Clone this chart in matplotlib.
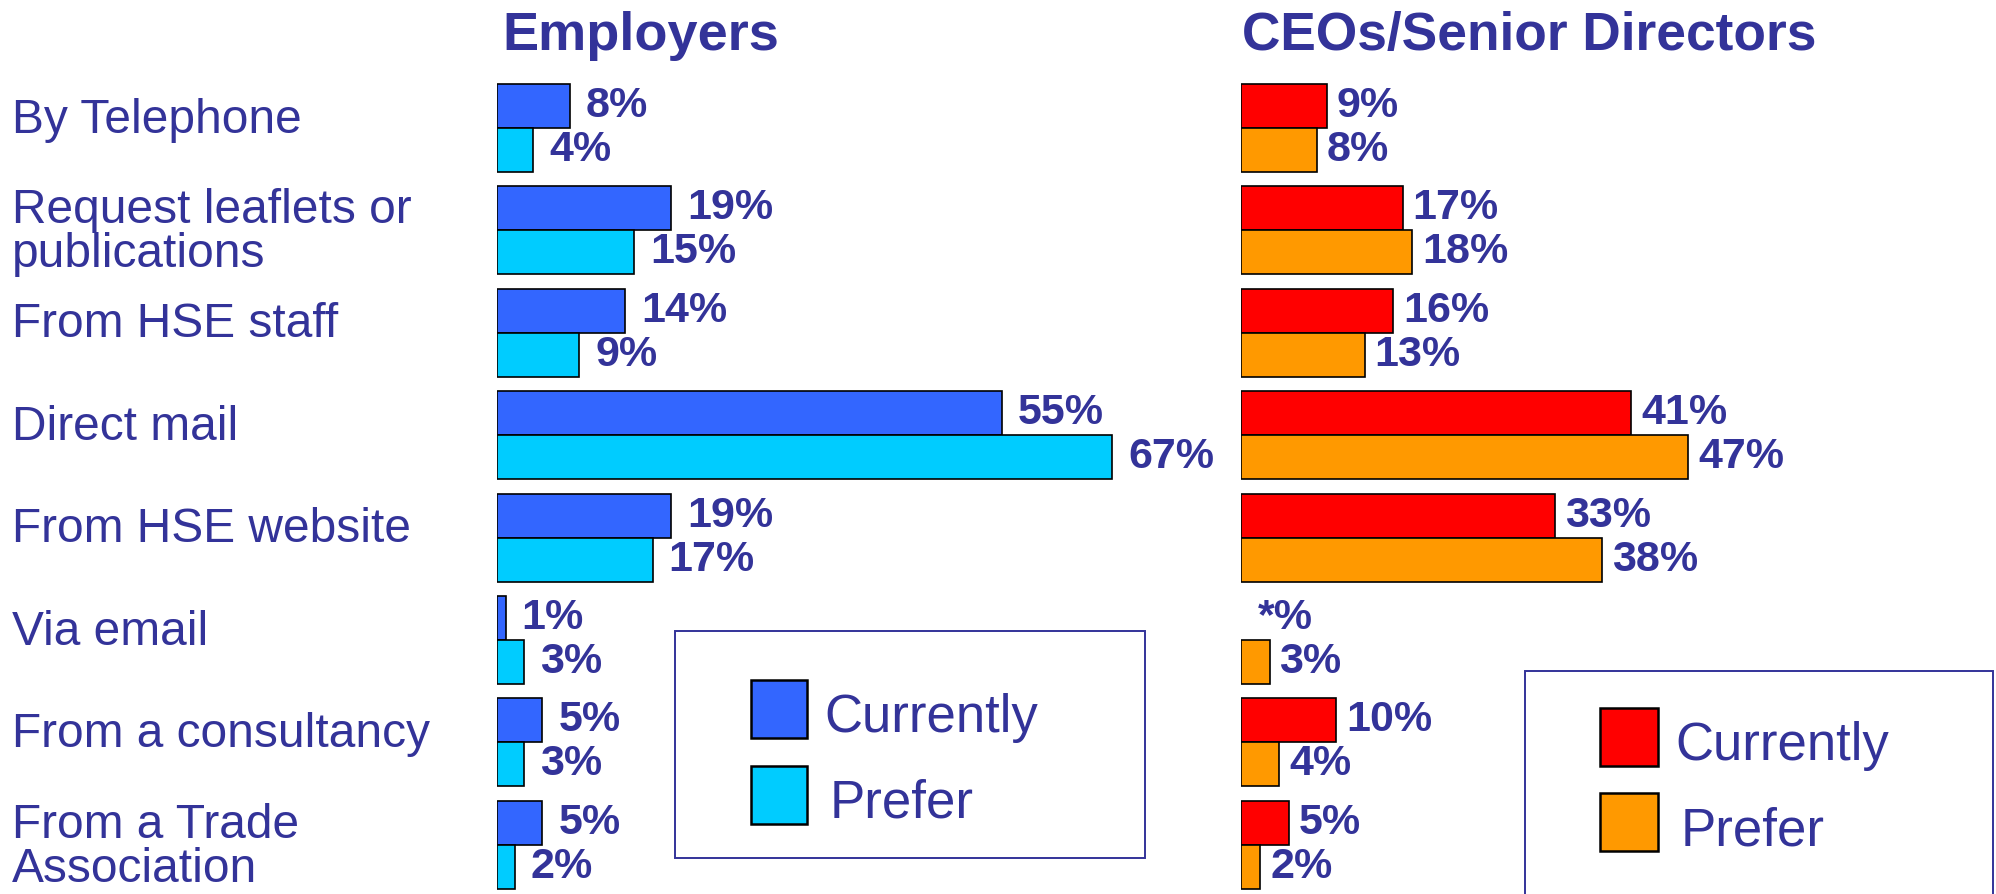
import numpy as np
import matplotlib.pyplot as plt
from matplotlib.patches import Rectangle
from matplotlib.transforms import blended_transform_factory, offset_copy

plt.rcParams['font.family'] = ['Liberation Sans', 'DejaVu Sans']

categories = ['By Telephone', 'Request leaflets or\npublications', 'From HSE staff',
              'Direct mail', 'From HSE website', 'Via email', 'From a consultancy',
              'From a Trade\nAssociation']
series = ['Currently', 'Prefer']
emp_current = [8, 19, 14, 55, 19, 1, 5, 5]
emp_prefer = [4, 15, 9, 67, 17, 3, 3, 2]
ceo_current = [9, 17, 16, 41, 33, 0, 10, 5]   # 0 is printed as "*%"
ceo_prefer = [8, 18, 13, 47, 38, 3, 4, 2]

W, H = 1996, 894
NAVY = '#333399'

fig = plt.figure(figsize=(W / 100, H / 100), dpi=100)


def fx(px):
    return px / W


def fy(py):
    return 1 - py / H


y = np.arange(len(categories))
bh = 0.43


def panel(left_px, width_px, xmax, cur, pref, colors, off):
    ax = fig.add_axes([fx(left_px), 0, width_px / W, 1])
    ax.set_xlim(0, xmax)
    ax.set_ylim(7.48, -1.25)
    ax.axis('off')
    for vals, yy, col in ((cur, y - bh / 2, colors[0]), (pref, y + bh / 2, colors[1])):
        bars = ax.barh(yy, vals, height=bh, color=col, edgecolor='black', linewidth=1.2)
        for b, v, yv in zip(bars, vals, yy):
            if v == 0:
                b.set_visible(False)
            txt = '{}%'.format(v) if v else '*%'
            ax.annotate(txt, (v, yv), xytext=(off if v else off + 7, 0),
                        textcoords='offset pixels', ha='left', va='center',
                        fontsize=31, fontweight='bold', color=NAVY,
                        annotation_clip=False)
    return ax


ax1 = panel(496.5, 643, 70, emp_current, emp_prefer, ('#3366FF', '#00CCFF'), 16)
ax2 = panel(1241, 475.5, 50, ceo_current, ceo_prefer, ('#FF0000', '#FF9900'), 10)

# category labels on the left
trans = blended_transform_factory(fig.transFigure, ax1.transData)
for i, cat in enumerate(categories):
    lines = cat.split('\n')
    shifts = [-4.5] if len(lines) == 1 else [7, -37]
    for line, dy in zip(lines, shifts):
        fig.text(fx(12), i, line, transform=offset_copy(trans, fig=fig, y=dy, units='dots'),
                 ha='left', va='baseline', fontsize=34.5, color=NAVY)

fig.text(fx(502), fy(50), 'Employers', ha='left', va='baseline', fontsize=39,
         fontweight='bold', color=NAVY)
fig.text(fx(1242), fy(50), 'CEOs/Senior Directors', ha='left', va='baseline', fontsize=38.3,
         fontweight='bold', color=NAVY)


def legend(box, px, pw, ptops, ph, tx, colors):
    x0, y0, x1, y1 = box
    fig.add_artist(Rectangle((fx(x0), fy(y1)), (x1 - x0) / W, (y1 - y0) / H,
                             transform=fig.transFigure, facecolor='none',
                             edgecolor=NAVY, linewidth=1.4))
    for k, (lab, col, top) in enumerate(zip(series, colors, ptops)):
        fig.add_artist(Rectangle((fx(px), fy(top + ph)), pw / W, ph / H,
                                 transform=fig.transFigure, facecolor=col,
                                 edgecolor='black', linewidth=1.8))
        fig.text(fx(tx + 6 * k), fy(top + ph / 2 + 23), lab, ha='left', va='baseline',
                 fontsize=38, color=NAVY)


legend((675, 631, 1145, 858), 751, 56, (680, 766), 58, 824, ('#3366FF', '#00CCFF'))
legend((1525, 671, 1993, 920), 1600, 58, (708, 793), 58, 1675, ('#FF0000', '#FF9900'))

fig.savefig('out.png', dpi=100, facecolor='white')
